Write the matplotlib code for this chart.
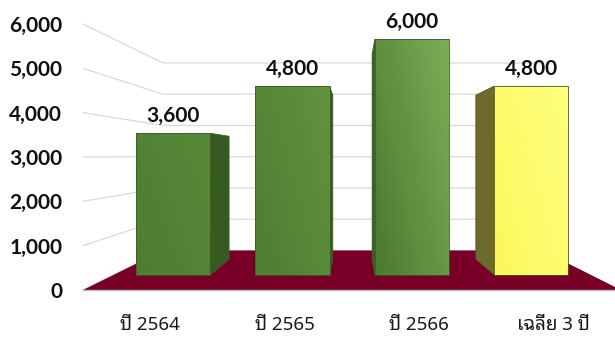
import numpy as np
import matplotlib
matplotlib.use("Agg")
import matplotlib.pyplot as plt
from matplotlib.patches import Polygon
from matplotlib.colors import LinearSegmentedColormap

# ---------------------------------------------------------------------------
# DATA
# ---------------------------------------------------------------------------
categories = ["ปี 2564", "ปี 2565", "ปี 2566", "เฉลี่ย 3 ปี"]
values = [3600, 4800, 6000, 4800]
y_ticks = [0, 1000, 2000, 3000, 4000, 5000, 6000]

# face colours per bar (front gradient low/high, side)
front_lo = ["#4f7c31", "#4f7d31", "#4b792d", "#fbf85a"]
front_hi = ["#578a38", "#62933f", "#7cae58", "#ffff80"]
side_col = ["#375a22", "#375a22", "#3a5c25", "#6c6a2c"]
edge_col = ["#3b5e25", "#3b5e25", "#3b5e25", "#55531e"]

# ---------------------------------------------------------------------------
# fake 3D: perspective towards a vanishing point, in data units
# ---------------------------------------------------------------------------
VX, VV = 2.015, 3023     # vanishing point (category units, value units)
S_WALL = 0.705           # depth of the back wall
S_FRONT = 0.888          # bar front face
S_BACK = 0.771           # bar back face
BAR_W = 0.62
X_MAX = 4.0

THAI = ["Noto Sans Thai Looped", "Noto Sans Thai", "Sarabun", "Anuphan", "DejaVu Sans"]
NUM = ["Lato", "DejaVu Sans"]


def project(x, v, s):
    return VX + (x - VX) * s, VV + (v - VV) * s


def gradient_poly(ax, pts, c0, c1, edge, z):
    poly = Polygon(pts, closed=True, facecolor="none", edgecolor=edge, lw=0.6, zorder=z + 0.1)
    ax.add_patch(poly)
    xs = [p[0] for p in pts]
    ys = [p[1] for p in pts]
    gx, gy = np.meshgrid(np.linspace(0, 1, 60), np.linspace(0, 1, 60))
    grad = (gx * 0.6 + gy * 0.4)
    cmap = LinearSegmentedColormap.from_list("g", [c0, c1])
    im = ax.imshow(grad, extent=[min(xs), max(xs), min(ys), max(ys)], origin="lower",
                   cmap=cmap, aspect="auto", zorder=z, interpolation="bilinear")
    im.set_clip_path(poly)


fig = plt.figure(figsize=(6.15, 3.38), dpi=100)
ax = fig.add_axes([83 / 615, 48 / 338, 532 / 615, 290 / 338])

# gridlines on left and back wall
for v in y_ticks:
    p0 = project(0, v, 1.0)
    p1 = project(0, v, S_WALL)
    p2 = project(X_MAX, v, S_WALL)
    ax.plot([p0[0], p1[0], p2[0]], [p0[1], p1[1], p2[1]], color="#d9d9d9", lw=0.9, zorder=1)

# floor
floor = [project(0, 0, 1.0), project(X_MAX, 0, 1.0), project(X_MAX, 0, S_WALL), project(0, 0, S_WALL)]
ax.add_patch(Polygon(floor, closed=True, facecolor="#780027", edgecolor="none", zorder=2, clip_on=False))
ax.plot([0, X_MAX], [0, 0], color="#bfbfbf", lw=1.0, zorder=2.5, clip_on=False)

# bars
for i, h in enumerate(values):
    cx = i + 0.5
    x0, x1 = cx - BAR_W / 2, cx + BAR_W / 2
    front = [project(x0, 0, S_FRONT), project(x1, 0, S_FRONT),
             project(x1, h, S_FRONT), project(x0, h, S_FRONT)]
    # visible side face
    xs = x1 if x1 < VX else x0
    if x1 < VX or x0 > VX:
        side = [project(xs, 0, S_FRONT), project(xs, 0, S_BACK),
                project(xs, h, S_BACK), project(xs, h, S_FRONT)]
        ax.add_patch(Polygon(side, closed=True, facecolor=side_col[i], edgecolor=edge_col[i],
                             lw=0.6, zorder=3))
    gradient_poly(ax, front, front_lo[i], front_hi[i], edge_col[i], 4)

    tx, ty = project(cx, h, S_FRONT)
    ax.annotate(f"{h:,}", (tx, ty), xytext=(0, 5), textcoords="offset points",
                ha="center", va="bottom", fontsize=15, fontweight="bold",
                family=NUM, color="#111111", zorder=6)

ax.set_xlim(0, 532 / 134.5)
ax.set_ylim(0, 290 / 0.04433)

ax.set_yticks(y_ticks)
ax.set_yticklabels([f"{v:,}" for v in y_ticks], fontsize=15, fontweight="bold",
                   family=NUM, color="#111111")
ax.set_xticks([i + 0.5 for i in range(len(categories))])
ax.set_xticklabels(categories, fontsize=13.5, family=THAI, color="#1a1a1a")
ax.tick_params(axis="y", length=0, pad=15)
ax.tick_params(axis="x", length=0, pad=19)
for sp in ax.spines.values():
    sp.set_visible(False)
ax.set_facecolor("none")

fig.savefig("out.png", dpi=100)
